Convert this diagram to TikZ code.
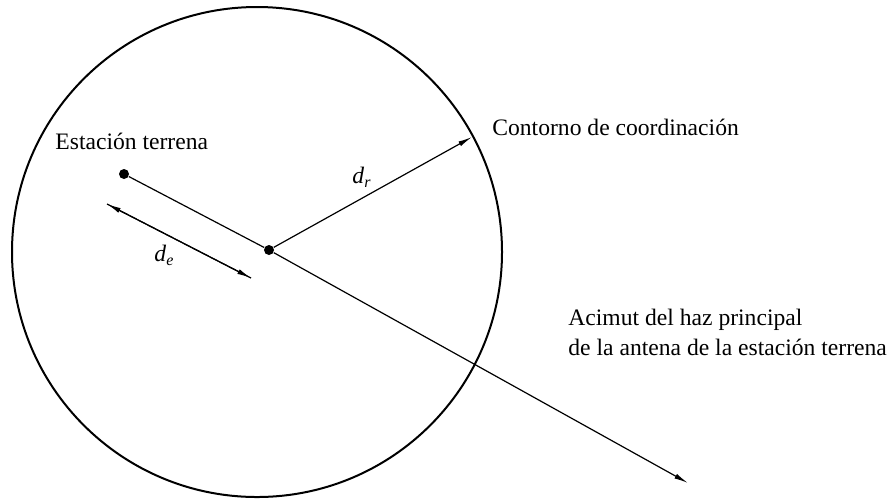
\documentclass[tikz,border=0pt]{standalone}
\usepackage{fontspec}
\setmainfont{Liberation Serif}
\usetikzlibrary{arrows.meta}
\def\subvar#1#2{\textit{#1}\raisebox{-0.45ex}{\footnotesize\textit{#2}}}

\begin{document}
\begin{tikzpicture}[x=0.5pt, y=-0.5pt,
		dot/.style={circle, fill=black, inner sep=0pt, minimum size=5pt},
		lbl/.style={anchor=base west, inner sep=0pt, font=\fontsize{11.8}{15}\selectfont},
		tip/.style={-{Latex[length=7pt,width=2.6pt]}}]
			%%%%% START %%%%%
			
			\useasboundingbox (0, 0) rectangle (893, 500);
			
			\draw[line width=1pt] (257, 252) circle (245);
			
			\node[dot] (sta) at (124, 174) {};
			\node[dot] (ctr) at (269, 250) {};
			\coordinate (rim) at (472, 137);
			\coordinate (az) at (688, 483);
			\coordinate (de1) at (107, 204);
			\coordinate (de2) at (251, 278);
			
			\draw[line width=0.6pt] (sta) -- (ctr);
			\draw[line width=0.6pt, tip] (ctr) -- (az);
			\draw[line width=0.6pt, tip] (ctr) -- (rim);
			\draw[line width=0.6pt, tip] (de1) -- (de2);
			\draw[line width=0.6pt, tip] (de2) -- (de1);
			
			\node[lbl] (lsta) at (55, 149) {Estación terrena};
			\node[lbl] (lcon) at (492, 135) {Contorno de coordinación};
			\node[lbl, align=left] (laz) at (568, 355) {Acimut del haz principal\\de la antena de la estación terrena};
			\node[lbl] (ldr) at (352, 183) {\subvar{d}{r}};
			\node[lbl] (lde) at (154, 261) {\subvar{d}{e}};
			
			%%%%% END %%%%%
		\end{tikzpicture}
\end{document}
